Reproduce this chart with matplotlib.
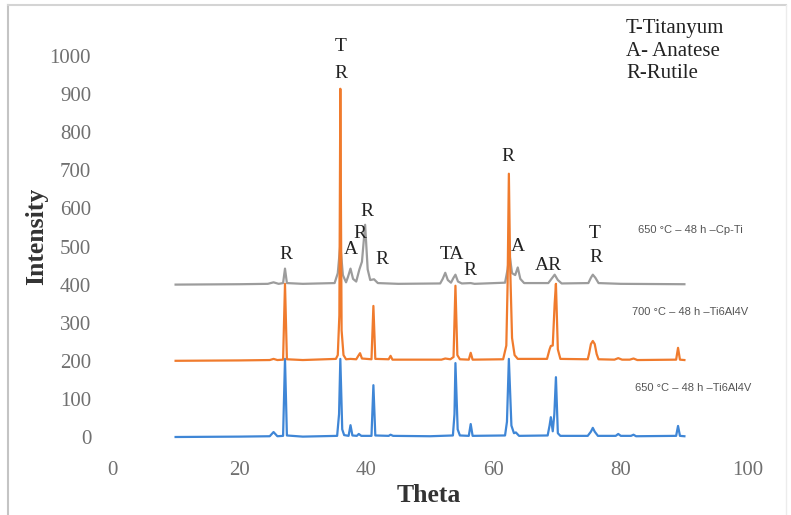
"""XRD patterns of oxidised Cp-Ti and Ti6Al4V, stacked with vertical offsets."""
import matplotlib
matplotlib.use("Agg")
import matplotlib.pyplot as plt
from matplotlib.lines import Line2D

# 650 C - 48 h - Ti6Al4V (offset 0)
blue_theta = [10, 20, 24.8, 25.4, 26.0, 26.9, 27.2, 27.5, 30, 35.4, 35.7, 35.9, 36.2, 36.5,
              37.2, 37.5, 37.8, 38.5, 38.8, 39.2, 40.8, 41.1, 41.4, 43.5, 43.8, 44.2, 50,
              53.6, 53.85, 54.0, 54.35, 54.7, 56.1, 56.4, 56.7, 61.8, 62.1, 62.4, 62.8, 63.2,
              63.5, 64.0, 68.5, 68.8, 69.0, 69.3, 69.55, 69.8, 70.1, 70.5, 74.8, 75.3, 75.6,
              75.9, 76.4, 79.2, 79.6, 80.0, 81.6, 82.0, 82.4, 88.7, 89.0, 89.3, 90]
blue_counts = [0, 1, 2, 13, 2, 3, 205, 4, 1, 3, 60, 205, 20, 5,
               3, 31, 4, 3, 8, 3, 3, 136, 4, 3, 6, 3, 2,
               4, 60, 194, 20, 4, 3, 34, 3, 4, 40, 205, 30, 10,
               12, 3, 4, 30, 52, 15, 60, 157, 10, 3, 3, 14, 24,
               14, 3, 3, 8, 3, 3, 6, 2, 3, 29, 3, 2]

# 700 C - 48 h - Ti6Al4V (offset 200)
orange_theta = [10, 20, 24.8, 25.4, 26.0, 26.9, 27.2, 27.5, 30, 35.2, 35.5, 35.75, 35.9, 36.1,
                36.4, 36.8, 37.5, 38.4, 38.8, 39.0, 39.3, 40.8, 41.1, 41.4, 43.5, 43.8, 44.1,
                50, 51.8, 52.4, 53.2, 53.7, 54.0, 54.3, 54.7, 56.1, 56.4, 56.7, 61.5, 62.0,
                62.2, 62.4, 62.6, 62.9, 63.3, 63.8, 68.4, 68.8, 69.0, 69.3, 69.6, 69.8, 70.1,
                70.5, 74.8, 75.0, 75.3, 75.6, 75.9, 76.2, 76.5, 79.0, 79.6, 80.2, 81.4, 82.0,
                82.6, 88.7, 89.0, 89.3, 90]
orange_counts = [0, 1, 2, 5, 2, 3, 202, 4, 2, 5, 15, 120, 714, 80,
                 15, 4, 5, 4, 15, 20, 6, 4, 144, 5, 4, 13, 3,
                 3, 3, 6, 4, 10, 197, 15, 4, 3, 21, 3, 4, 40,
                 200, 491, 250, 60, 15, 5, 5, 30, 39, 40, 150, 202, 30,
                 5, 4, 18, 44, 52, 44, 18, 4, 3, 7, 3, 3, 6,
                 2, 3, 34, 3, 2]

# 650 C - 48 h - Cp-Ti (offset 400)
gray_theta = [10, 20, 24.5, 25.4, 26.2, 26.9, 27.2, 27.5, 30, 35.0, 35.5, 35.9, 36.3, 36.8,
              37.1, 37.5, 37.9, 38.4, 38.9, 39.3, 39.8, 40.2, 40.6, 41.2, 41.8, 45, 51.6,
              52.0, 52.4, 52.8, 53.3, 53.7, 54.0, 54.4, 55, 56.4, 57, 61.8, 62.2, 62.5, 62.9,
              63.4, 63.8, 64.2, 64.8, 68.6, 69.1, 69.6, 70.1, 70.7, 74.9, 75.3, 75.6, 76.0,
              76.5, 80, 90]
gray_counts = [0, 1, 2, 6, 2, 4, 42, 4, 2, 4, 30, 105, 25, 6,
               20, 42, 15, 8, 40, 60, 157, 40, 12, 14, 4, 2, 3,
               15, 31, 12, 5, 18, 26, 8, 3, 4, 2, 5, 40, 80, 30,
               25, 45, 15, 4, 4, 15, 26, 12, 3, 4, 18, 26, 18,
               4, 2, 1]

series_offsets = [0, 200, 400]
series_names = ["650 \u00b0C \u2013 48 h \u2013Ti6Al4V",
                "700 \u00b0C \u2013 48 h \u2013Ti6Al4V",
                "650 \u00b0C \u2013 48 h \u2013Cp-Ti"]
name_positions = [(91.4, 129), (90.9, 328), (90.9, 543)]

# phase labels placed over the peaks (theta, intensity, text)
peak_labels = [
    (36.0, 1024, "T"), (36.0, 955, "R"), (27.4, 478, "R"), (37.6, 491, "A"),
    (40.1, 593, "R"), (39.0, 535, "R"), (42.5, 465, "R"), (53.5, 478, "TA"),
    (56.3, 438, "R"), (62.3, 735, "R"), (63.8, 499, "A"), (68.6, 449, "AR"),
    (75.9, 535, "T"), (76.1, 470, "R"),
]
phase_key = ["T-Titanyum", "A- Anatese", "R-Rutile"]

x_ticks = [0, 20, 40, 60, 80, 100]
y_ticks = list(range(0, 1001, 100))

colors = ["#3f86d6", "#f07b2d", "#9c9c9c"]
layer = [2, 3, 1]  # orange drawn over the others
serif = "Liberation Serif"

W, H = 791, 515
fig = plt.figure(figsize=(W / 100, H / 100), dpi=100)
ax = fig.add_axes([112 / W, 1 - 437 / H, 636 / W, 381 / H])

data = [(blue_theta, blue_counts), (orange_theta, orange_counts), (gray_theta, gray_counts)]
for (theta, counts), offset, color, z in zip(data, series_offsets, colors, layer):
    ax.plot(theta, [c + offset for c in counts], color=color, linewidth=1.6,
            solid_joinstyle="round", clip_on=False, zorder=z)

for name, (tx, ty) in zip(series_names, name_positions):
    ax.text(tx, ty, name, ha="center", va="center", fontsize=8,
            family="Liberation Sans", color="#555555", clip_on=False)

for tx, ty, label in peak_labels:
    ax.text(tx, ty, label, ha="center", va="center", fontsize=14,
            family=serif, color="#222222", clip_on=False)

for i, line in enumerate(phase_key):
    fig.text(626 / W, 1 - (28 + 23 * i) / H, line, ha="left", va="center",
             fontsize=15, family=serif, color="#222222")

ax.set_xlim(0, 100)
ax.set_ylim(0, 1000)
ax.set_xticks(x_ticks)
ax.set_yticks(y_ticks)
ax.tick_params(length=0, labelsize=15, labelcolor="#707070")
ax.tick_params(axis="x", pad=17)
ax.tick_params(axis="y", pad=15)
for lab in ax.get_xticklabels() + ax.get_yticklabels():
    lab.set_family(serif)
for spine in ax.spines.values():
    spine.set_visible(False)

fig.text(429 / W, 1 - 495 / H, "Theta", ha="center", va="center",
         fontsize=18.5, fontweight="bold", family=serif, color="#333333")
fig.text(37 / W, 1 - 236 / H, "Intensity", ha="center", va="center", rotation=90,
         fontsize=18.5, fontweight="bold", family=serif, color="#333333")

# light outer frame of the original figure
fig.add_artist(Line2D([8 / W, 8 / W], [0, 1 - 5 / H], color="#c4c4c4", linewidth=1.5))
fig.add_artist(Line2D([8 / W, 786 / W], [1 - 5 / H, 1 - 5 / H], color="#d4d4d4", linewidth=1.5))
fig.add_artist(Line2D([786 / W, 786 / W], [0, 1 - 5 / H], color="#ececec", linewidth=1.0))

fig.savefig("out.png", dpi=100, facecolor="white")
